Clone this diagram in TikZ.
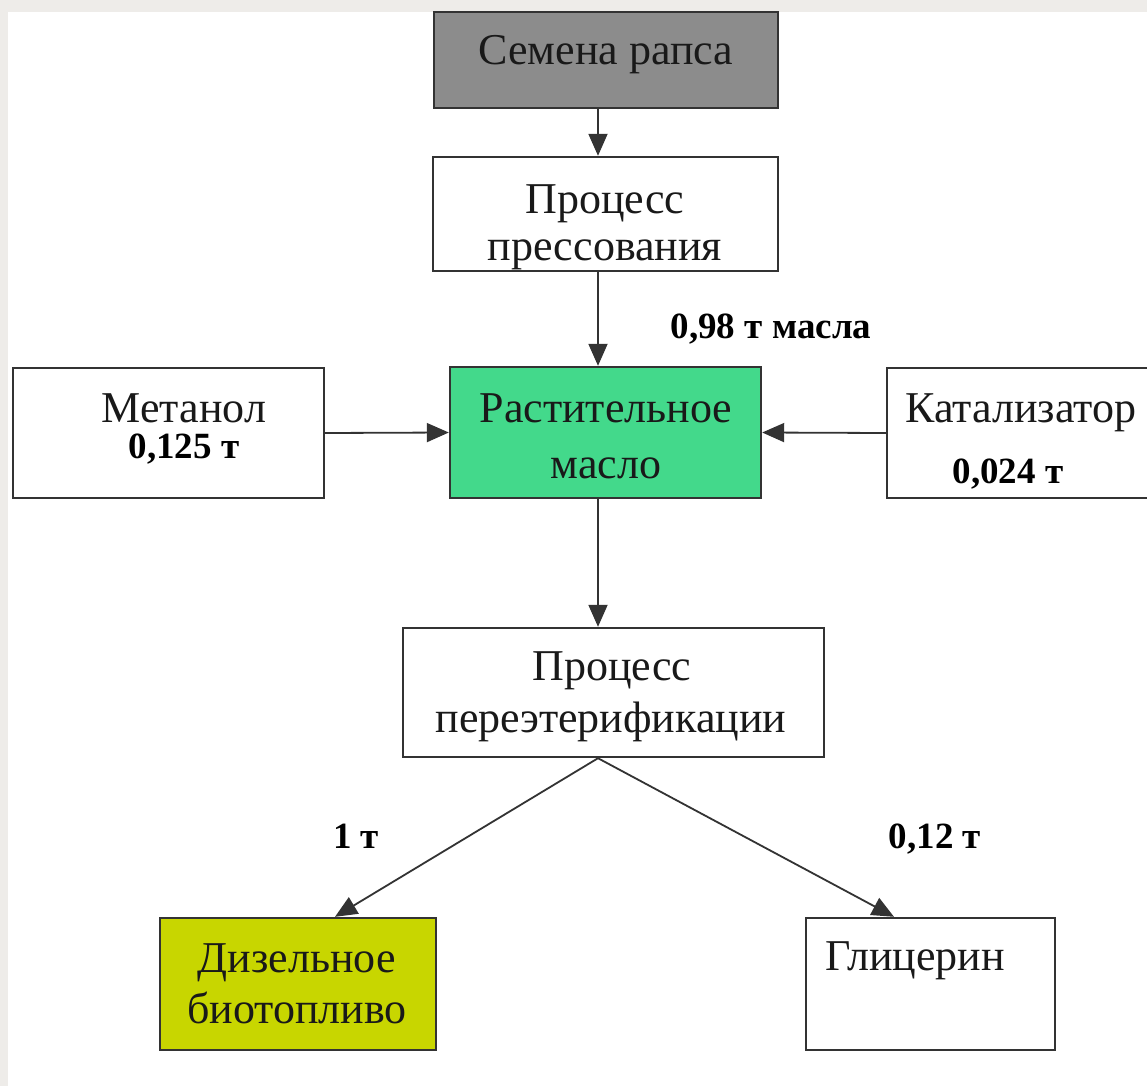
\documentclass[tikz,border=0pt]{standalone}
\usepackage{fontspec}
\setmainfont{Liberation Serif}
\usetikzlibrary{arrows.meta}
\definecolor{bggray}{HTML}{EEECE9}
\definecolor{seedgray}{HTML}{8C8C8C}
\definecolor{oilgreen}{HTML}{43D98B}
\definecolor{fuelyellow}{HTML}{C8D600}
\definecolor{edgecol}{HTML}{333333}
\begin{document}
\begin{tikzpicture}[x=1pt,y=-1pt,
  box/.style={draw=edgecol, line width=2.4pt, rectangle, inner sep=0pt},
  main/.style={font=\fontsize{44}{48}\selectfont, inner sep=0pt, anchor=base, text=black!90},
  lbl/.style={font=\fontsize{37}{40}\selectfont\bfseries, inner sep=0pt, anchor=base, text=black},
  arr/.style={draw=edgecol, line width=1.8pt, -{Triangle[length=22pt,width=19pt]}}]
\clip (0,0) rectangle (1147,1086);
\useasboundingbox (0,0) rectangle (1147,1086);
\fill[bggray] (0,0) rectangle (1147,1086);
\fill[white] (8,12) rectangle (1147,1086);

% boxes
\node[box, fill=seedgray, minimum width=344pt, minimum height=96pt] (seeds) at (606,60) {};
\node[box, fill=white, minimum width=345pt, minimum height=114pt] (press) at (605.5,214) {};
\node[box, fill=oilgreen, minimum width=311pt, minimum height=131pt] (oil) at (605.5,432.5) {};
\node[box, fill=white, minimum width=311pt, minimum height=130pt] (meth) at (168.5,433) {};
\node[box, fill=white, minimum width=283pt, minimum height=130pt] (cat) at (1028.5,433) {};
\node[box, fill=white, minimum width=421pt, minimum height=129pt] (trans) at (613.5,692.5) {};
\node[box, fill=fuelyellow, minimum width=276pt, minimum height=132pt] (diesel) at (298,984) {};
\node[box, fill=white, minimum width=249pt, minimum height=132pt] (glyc) at (930.5,984) {};

% texts
\node[main] (seedsT) at (606,65) {Семена рапса};
\node[main] (prT1) at (605,213) {Процесс};
\node[main] (prT2) at (605,260) {прессования};
\node[lbl] (l098) at (771,338) {0,98 т масла};
\node[main] (methT) at (184,422) {Метанол};
\node[lbl] (methV) at (184,458) {0,125 т};
\node[main] (oilT1) at (606,422) {Растительное};
\node[main] (oilT2) at (606,478) {масло};
\node[main] (catT) at (1021,422) {Катализатор};
\node[lbl] (catV) at (1008,483) {0,024 т};
\node[main] (trT1) at (612,680) {Процесс};
\node[main] (trT2) at (611,732) {переэтерификации};
\node[lbl] (l1) at (356,848) {1 т};
\node[lbl] (l012) at (935,848) {0,12 т};
\node[main] (dT1) at (297,972) {Дизельное};
\node[main] (dT2) at (297,1023) {биотопливо};
\node[main] (gT) at (915,970) {Глицерин};

% connectors
\coordinate (ax) at (598,0);
\coordinate (dx) at (335,0);
\coordinate (gx) at (894,0);
\draw[arr] (seeds.south -| ax) -- (press.north -| ax);
\draw[arr] (press.south -| ax) -- (oil.north -| ax);
\draw[arr] (oil.south -| ax) -- (trans.north -| ax);
\draw[arr] (meth.east) -- (oil.west);
\draw[arr] (cat.west) -- (oil.east);
\draw[arr] (trans.south -| ax) -- (diesel.north -| dx);
\draw[arr] (trans.south -| ax) -- (glyc.north -| gx);
\end{tikzpicture}
\end{document}
